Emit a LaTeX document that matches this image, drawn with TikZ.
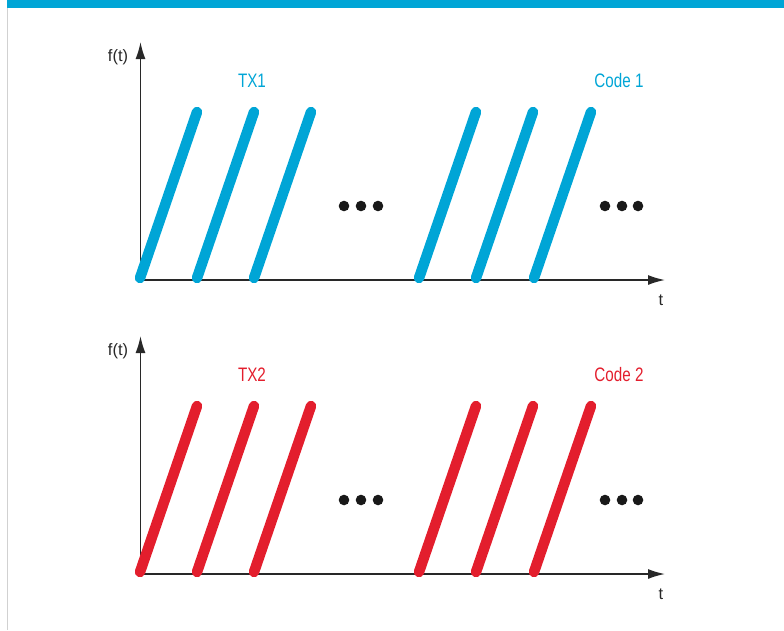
\documentclass[tikz,border=0pt]{standalone}
\usepackage{fontspec}
\setmainfont{Liberation Sans}
\newfontfamily\narrowfont[FakeStretch=0.78]{Liberation Sans}
\usetikzlibrary{arrows.meta}
\definecolor{txblue}{RGB}{0,165,214}
\definecolor{txred}{RGB}{227,30,45}
\definecolor{axisgray}{RGB}{40,40,40}
\tikzset{
	axisline/.style={draw=axisgray,line width=1.6pt,-{Latex[length=17pt,width=10pt]}},
	chirp/.style={line width=10.5pt,line cap=round},
	codelabel/.style={font=\narrowfont\fontsize{19.5}{19.5}\selectfont},
	axislabel/.style={font=\fontsize{16.5}{16.5}\selectfont,text=axisgray}
}
\begin{document}
\begin{tikzpicture}[x=1pt,y=-1pt,line join=round]
			\useasboundingbox (0,0) rectangle (784,630);
			% header bar and left rule
			\fill[txblue] (7,0) rectangle (784,7.5);
			\draw[black!18,line width=1.5pt] (7.5,7.5) -- (7.5,630);
			
			\foreach \dy/\col/\tx/\cd [count=\k] in {0/txblue/TX1/Code 1,294/txred/TX2/Code 2} {
				\path
				(140.5,{280+\dy}) coordinate (O\k)
				(140.5,{42+\dy}) coordinate (Y\k)
				(665,{280+\dy}) coordinate (X\k);
				
				\draw[axisline] (O\k) -- (Y\k);
				\draw[axisline] (O\k) -- (X\k);
				
				\node[axislabel] (f\k) at (118,{57+\dy}) {f(t)};
				\node[axislabel] (t\k) at (661,{300+\dy}) {t};
				\node[codelabel,text=\col] (tx\k) at (252,{81+\dy}) {\tx};
				\node[codelabel,text=\col] (cd\k) at (619,{81+\dy}) {\cd};
				
				\foreach \x [count=\j] in {140,197,254,419,476,534} {
					\path (\x,{278+\dy}) coordinate (B\k\j)
					({\x+57},{112+\dy}) coordinate (T\k\j);
					\draw[chirp,\col] (B\k\j) -- (T\k\j);
				}
				
				\foreach \x in {344,361,378,605,622,638} {
					\fill[black!90] (\x,{206+\dy}) circle (5.3pt);
				}
			}
			
		\end{tikzpicture}
\end{document}
